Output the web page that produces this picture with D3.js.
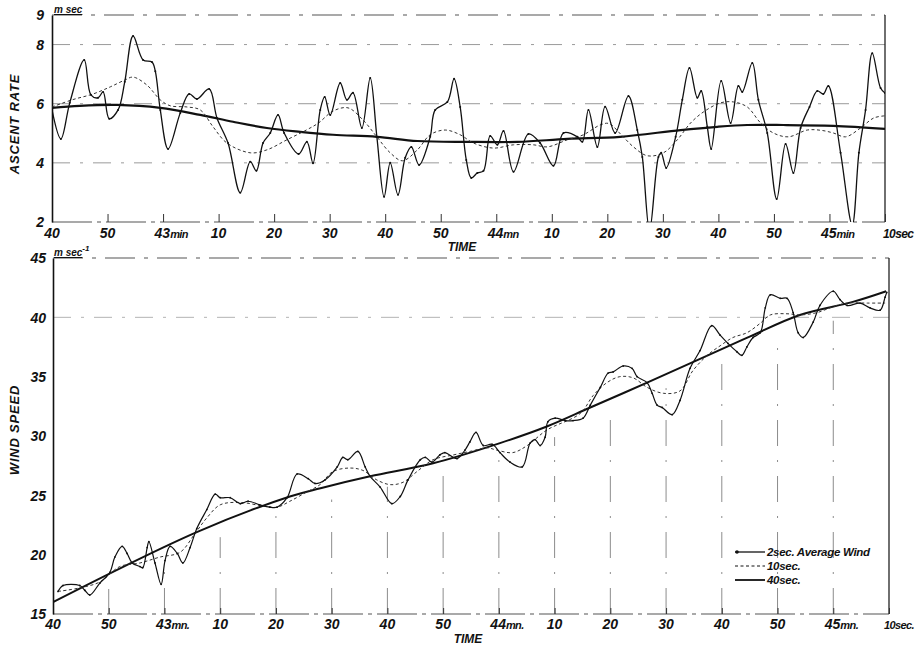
<!DOCTYPE html>
<html>
<head>
<meta charset="utf-8">
<script src="https://cdn.jsdelivr.net/npm/d3@7"></script>
<style>
  html, body { margin: 0; padding: 0; background: #fff; }
  svg { display: block; }
  text { font-family: "Liberation Sans", Arial, sans-serif; font-weight: bold; font-style: italic; fill: #111; }
</style>
</head>
<body>
<svg id="chart" width="922" height="648"></svg>
<script>
// Time axis: seconds after 42 min 40 s
const tickTimes = [0,10,20,30,40,50,60,70,80,90,100,110,120,130,140,150];
const topTickLabels = ["40","50","43|min","10","20","30","40","50","44|mn","10","20","30","40","50","45|min","10sec"];
const botTickLabels = ["40","50","43|mn.","10","20","30","40","50","44|mn.","10","20","30","40","50","45|mn.","10sec."];
const ascentTicks = [2,4,6,8,9];
const windTicks = [15,20,25,30,35,40,45];

// Ascent rate (m/sec)
const ascent2sT = [0,1.6,3.2,5.8,7.0,8.3,9.2,10.3,11.9,13.1,14.6,16.4,18.0,18.6,19.5,20.9,23.1,24.7,26.1,28.3,29.7,31.7,33.9,35.7,36.8,38.0,39.3,40.7,41.8,44.4,45.9,47.0,48.3,49.1,50.1,51.9,53.1,54.2,55.8,57.3,58.5,59.8,60.9,62.3,63.6,64.7,66.1,68.1,69.0,71.2,72.4,73.5,74.6,75.5,76.6,77.7,78.9,80.2,81.3,83.1,85.8,87.9,90.3,92.1,94.6,95.5,96.6,98.2,99.6,101.4,103.8,105.4,106.3,107.6,109.2,109.7,110.6,112.3,113.5,114.8,116.2,116.9,118.0,118.7,120.5,122.2,123.6,124.3,126.1,127.2,128.8,130.5,132.1,133.5,134.8,136.4,137.8,138.9,139.8,142.0,144.1,145.3,146.5,147.7,149.2,150];
const ascent2sV = [5.79,4.81,6.03,7.48,6.3,6.2,6.4,5.49,5.79,6.74,8.29,7.48,7.41,7.1,5.79,4.47,5.69,6.33,6.16,6.5,5.52,4.67,2.99,4.04,3.73,4.67,5.01,5.62,5.01,4.3,4.71,3.99,5.79,6.23,5.62,6.7,6.13,6.37,5.18,6.87,4.88,2.85,4.0,2.92,4.17,4.54,3.93,4.88,5.79,6.06,6.84,5.89,4.1,3.49,3.66,3.73,4.91,4.61,5.08,3.7,4.98,4.67,3.9,5.01,4.88,4.71,5.79,4.54,5.9,5.01,6.26,5.11,4.2,1.7,4.2,4.34,3.83,4.88,6.13,7.21,6.2,6.43,5.22,4.47,6.77,5.35,6.6,6.4,7.38,6.13,5.01,2.78,4.64,3.66,5.18,5.89,6.43,6.33,6.6,4.34,1.9,4.34,5.79,7.71,6.53,6.36];

const ascent10sT = [0,3.6,7.4,10.5,13.1,14.6,17.1,19.5,21.3,24.3,26.7,29.0,31.5,35.7,38.7,42.3,45.9,48.0,50.6,53.3,56.0,58.5,60.9,63.1,65.8,68.1,70.8,73.5,75.9,79.5,83.1,86.7,89.2,92.8,95.7,98.7,100.3,102.5,104.7,107.2,110.1,112.6,115.0,117.3,120.4,122.7,125.2,127.6,129.9,132.6,136.0,138.5,140.7,142.9,145.6,148.0,150];
const ascent10sV = [5.89,6.13,6.33,6.57,6.8,6.9,6.63,6.13,5.93,5.89,5.79,5.22,4.67,4.34,4.44,4.78,5.12,5.35,5.75,5.86,5.45,4.88,4.34,4.07,4.44,4.95,5.11,4.95,4.67,4.5,4.61,4.61,4.54,4.78,4.95,5.28,5.33,4.95,4.54,4.24,4.34,4.78,5.35,5.72,6.03,6.06,5.89,5.35,5.01,4.88,5.11,5.1,5.01,4.88,5.18,5.52,5.59];

const ascent40sT = [0,5,11.7,19.5,26.7,32.6,38.7,44.7,50.6,58.5,65.8,74.8,83.8,92.8,102.3,113.2,119.8,125.2,131.7,140.7,150];
const ascent40sV = [5.86,5.93,5.96,5.86,5.62,5.39,5.18,5.05,4.95,4.88,4.74,4.71,4.71,4.81,4.88,5.11,5.22,5.28,5.28,5.25,5.15];

// Wind speed (m/sec)
const wind2sT = [0.9,1.8,4.8,5.7,6.6,8.4,10.2,11.1,12.4,13.3,14.2,15.6,16.1,16.9,17.2,18.3,19.4,20.1,21.0,22.3,23.3,24.6,25.8,27.6,29.1,30.0,31.8,33.6,35.0,37.1,38.9,40.2,42.0,43.8,45.8,47.0,48.8,51.0,52.0,52.9,54.7,56.0,56.9,58.7,60.8,62.3,63.7,65.9,66.8,68.0,69.4,70.3,72.5,73.9,74.8,75.9,77.2,78.8,80.2,82.0,84.2,85.6,86.5,87.4,88.3,88.8,90.1,91.9,93.3,95.1,96.4,98.2,99.6,100.5,102.3,103.9,104.8,106.6,107.5,108.4,109.3,111.1,112.5,114.3,116.1,118.2,119.7,121.1,122.7,123.6,124.5,125.6,126.9,127.8,128.7,130.5,131.7,132.8,133.7,134.6,136.4,137.6,140.0,141.2,142.5,144.8,146.6,148.4,149.3,149.6];
const wind2sV = [16.9,17.4,17.4,17.0,16.6,17.6,18.5,19.8,20.7,20.1,19.3,19.0,18.9,20.6,21.1,19.3,17.5,19.5,20.7,20.1,19.3,20.6,22.2,23.8,25.1,24.8,24.8,24.3,24.5,24.2,24.0,24.0,24.8,26.8,26.4,26.0,26.3,27.4,28.2,28.0,28.7,27.4,26.6,25.7,24.3,24.9,26.3,28.0,28.2,27.8,28.4,28.6,28.1,28.8,29.5,30.3,29.2,29.3,28.6,27.8,27.4,29.4,29.7,29.2,29.9,31.2,31.5,31.3,31.3,31.5,32.6,34.1,35.3,35.4,35.9,35.7,35.0,34.5,33.6,32.6,32.4,31.8,33.0,35.7,37.2,39.3,38.5,37.8,37.1,36.8,37.5,38.3,38.7,40.8,41.9,41.6,41.6,40.4,38.7,38.3,39.6,41.0,42.2,41.5,41.0,41.2,40.8,40.6,41.7,42.1];

const wind10sT = [0.9,4.8,8.4,12.0,15.6,19.2,22.8,25.5,27.6,30.0,33.6,37.7,40.2,42.5,45.6,47.9,50.2,53.3,55.6,58.1,60.5,62.8,65.3,68.2,71.8,74.8,77.9,79.7,82.5,85.1,88.6,94.6,96.9,99.4,101.7,104.1,106.6,109.5,112.5,114.8,117.4,119.7,122.0,124.5,126.9,128.7,131.7,134.0,137.1,140.0,142.5,146.1,149.3];
const wind10sV = [16.9,17.2,17.7,19.0,19.3,19.8,20.2,21.8,23.1,24.2,24.4,24.1,24.0,24.5,25.3,25.9,27.0,27.3,27.1,26.3,25.9,26.1,27.0,28.0,28.4,28.7,29.0,28.8,28.6,29.2,30.5,31.9,33.4,34.5,35.0,34.9,34.1,33.6,33.8,35.5,36.8,37.6,38.3,38.7,39.5,40.2,40.3,40.2,40.4,40.9,41.2,41.2,41.2];

const wind40sT = [0,25.8,42.5,48.0,56.9,68.2,80.2,88.6,96.4,106.6,116.1,125.1,134.0,143.5,149.5];
const wind40sV = [16.0,21.9,24.9,25.6,26.6,27.7,29.4,30.8,32.4,34.5,36.5,38.4,40.2,41.3,42.2];

const legendLabels = ["2sec. Average Wind", "10sec.", "40sec."];

const svg = d3.select("#chart");
svg.append("rect").attr("width", 922).attr("height", 648).attr("fill", "#fff");

const xTop = d3.scaleLinear().domain([0, 150]).range([52, 885]);
const yTop = d3.scaleLinear().domain([2, 9]).range([222, 15]);
const xBot = d3.scaleLinear().domain([0, 150]).range([53, 889]);
const yBot = d3.scaleLinear().domain([15, 45]).range([614, 258]);

const zip = (ts, vs) => ts.map((t, i) => [t, vs[i]]);

// Interpolated value of a smoothed series at time t (used only to size grid strokes)
function valueAt(ts, vs, t) {
  const i = d3.bisectRight(ts, t);
  if (i <= 0) return vs[0];
  if (i >= ts.length) return vs[vs.length - 1];
  const f = (t - ts[i - 1]) / (ts[i] - ts[i - 1]);
  return vs[i - 1] + f * (vs[i] - vs[i - 1]);
}

const gridStyle = sel => sel.attr("stroke", "#9a9a9a").attr("stroke-width", 1)
  .attr("stroke-dasharray", "18,10,3,10").attr("fill", "none");

// ---------- clip paths ----------
const defs = svg.append("defs");
defs.append("clipPath").attr("id", "clipTop").append("rect")
  .attr("x", xTop(0)).attr("y", yTop(9)).attr("width", xTop(150) - xTop(0)).attr("height", yTop(2) - yTop(9));
defs.append("clipPath").attr("id", "clipBot").append("rect")
  .attr("x", xBot(0)).attr("y", yBot(45)).attr("width", xBot(150) - xBot(0)).attr("height", yBot(15) - yBot(45));

// ---------- tick labels with number centred on tick ----------
function drawTickLabels(g, x, labels, yBase, lastStart, lastSize) {
  labels.forEach((lab, i) => {
    const t = tickTimes[i];
    const parts = lab.split("|");
    if (i === labels.length - 1) {
      g.append("text").attr("x", x(t) + lastStart).attr("y", yBase)
        .attr("font-size", lastSize).attr("letter-spacing", -0.6).attr("text-anchor", "start").text(lab);
    } else if (parts.length === 2) {
      const tx = g.append("text").attr("x", x(t) - 8.5).attr("y", yBase)
        .attr("font-size", 14).attr("text-anchor", "start");
      tx.append("tspan").text(parts[0]);
      tx.append("tspan").attr("font-size", 11).attr("letter-spacing", -0.6).text(parts[1]);
    } else {
      g.append("text").attr("x", x(t)).attr("y", yBase)
        .attr("font-size", 14).attr("text-anchor", "middle").text(lab);
    }
  });
}

// =============== TOP PANEL: ASCENT RATE ===============
const gTop = svg.append("g");

// horizontal guide lines
[4, 6, 8].forEach(v => {
  gTop.append("line").attr("x1", xTop(0)).attr("x2", xTop(150))
    .attr("y1", yTop(v)).attr("y2", yTop(v)).call(gridStyle);
});
// upper frame
gTop.append("line").attr("x1", xTop(0)).attr("x2", xTop(150))
  .attr("y1", yTop(9)).attr("y2", yTop(9))
  .attr("stroke", "#555").attr("stroke-width", 1.1).attr("stroke-dasharray", "30,9,4,9");
// baseline
gTop.append("line").attr("x1", xTop(0)).attr("x2", xTop(150))
  .attr("y1", yTop(2)).attr("y2", yTop(2))
  .attr("stroke", "#555").attr("stroke-width", 1.2).attr("stroke-dasharray", "40,5,4,5");
// right border
gTop.append("line").attr("x1", xTop(150)).attr("x2", xTop(150))
  .attr("y1", yTop(9)).attr("y2", yTop(2)).attr("stroke", "#222").attr("stroke-width", 1.3);

// time ticks
const axTop = gTop.append("g").attr("transform", `translate(0,${yTop(2)})`)
  .call(d3.axisBottom(xTop).tickValues(tickTimes).tickSize(-8).tickSizeOuter(0).tickFormat(""));
axTop.select(".domain").remove();
axTop.selectAll(".tick line").attr("stroke", "#333").attr("stroke-width", 1);

// left axis
const ayTop = gTop.append("g").attr("transform", `translate(${xTop(0)},0)`)
  .call(d3.axisLeft(yTop).tickValues(ascentTicks).tickSize(0).tickPadding(8).tickSizeOuter(0).tickFormat(d3.format("d")));
ayTop.select(".domain").attr("stroke", "#111").attr("stroke-width", 1.6);
ayTop.selectAll("text").attr("font-size", 14).attr("font-family", "Liberation Sans, Arial, sans-serif")
  .attr("font-weight", "bold").attr("font-style", "italic").attr("fill", "#111").attr("dy", "0.35em");

drawTickLabels(gTop, xTop, topTickLabels, 238, -2, 12);

gTop.append("text").attr("x", 462).attr("y", 251).attr("font-size", 12).attr("text-anchor", "middle").text("TIME");
gTop.append("text").attr("transform", "translate(19,124) rotate(-90)")
  .attr("font-size", 13).attr("letter-spacing", 0.8).attr("text-anchor", "middle").text("ASCENT RATE");
gTop.append("text").attr("x", 54).attr("y", 13).attr("font-size", 10).attr("text-decoration", "underline").text("m sec");

// curves
const lineTop = d3.line().x(d => xTop(d[0])).y(d => yTop(d[1])).curve(d3.curveCatmullRom.alpha(0.5));
const cTop = gTop.append("g").attr("clip-path", "url(#clipTop)");
cTop.append("path").datum(zip(ascent40sT, ascent40sV)).attr("d", lineTop)
  .attr("fill", "none").attr("stroke", "#111").attr("stroke-width", 2.2);
cTop.append("path").datum(zip(ascent10sT, ascent10sV)).attr("d", lineTop)
  .attr("fill", "none").attr("stroke", "#333").attr("stroke-width", 1).attr("stroke-dasharray", "3,2.5");
cTop.append("path").datum(zip(ascent2sT, ascent2sV)).attr("d", lineTop)
  .attr("fill", "none").attr("stroke", "#111").attr("stroke-width", 1.3);
cTop.selectAll("circle.m").data(zip(ascent2sT, ascent2sV)).join("circle")
  .attr("cx", d => xTop(d[0])).attr("cy", d => yTop(d[1])).attr("r", 1).attr("fill", "#111");

// =============== BOTTOM PANEL: WIND SPEED ===============
const gBot = svg.append("g");

// horizontal guide line at 40 and upper frame
gBot.append("line").attr("x1", xBot(0)).attr("x2", xBot(150))
  .attr("y1", yBot(40)).attr("y2", yBot(40)).call(gridStyle).attr("stroke", "#b4b4b4");
gBot.append("line").attr("x1", xBot(0)).attr("x2", xBot(150))
  .attr("y1", yBot(45)).attr("y2", yBot(45))
  .attr("stroke", "#555").attr("stroke-width", 1.1).attr("stroke-dasharray", "30,9,4,9");
// vertical guide lines rising from the base to the 40 sec curve
tickTimes.slice(1, -1).forEach(t => {
  const top = yBot(valueAt(wind40sT, wind40sV, t)) + 14;
  gBot.append("line").attr("x1", xBot(t)).attr("x2", xBot(t))
    .attr("y1", yBot(15)).attr("y2", top)
    .attr("stroke", "#8c8c8c").attr("stroke-width", 1).attr("stroke-dasharray", "26,14,2,14");
});
// baseline
gBot.append("line").attr("x1", xBot(0)).attr("x2", xBot(150))
  .attr("y1", yBot(15)).attr("y2", yBot(15))
  .attr("stroke", "#555").attr("stroke-width", 1.2).attr("stroke-dasharray", "40,5,4,5");
// right border
gBot.append("line").attr("x1", xBot(150)).attr("x2", xBot(150))
  .attr("y1", yBot(45)).attr("y2", yBot(15)).attr("stroke", "#222").attr("stroke-width", 1.3);

const axBot = gBot.append("g").attr("transform", `translate(0,${yBot(15)})`)
  .call(d3.axisBottom(xBot).tickValues(tickTimes).tickSize(-6).tickSizeOuter(0).tickFormat(""));
axBot.select(".domain").remove();
axBot.selectAll(".tick line").attr("stroke", "#333");

const ayBot = gBot.append("g").attr("transform", `translate(${xBot(0)},0)`)
  .call(d3.axisLeft(yBot).tickValues(windTicks).tickSize(0).tickPadding(7).tickSizeOuter(0).tickFormat(d3.format("d")));
ayBot.select(".domain").attr("stroke", "#111").attr("stroke-width", 1.6);
ayBot.selectAll("text").attr("font-size", 14).attr("font-family", "Liberation Sans, Arial, sans-serif")
  .attr("font-weight", "bold").attr("font-style", "italic").attr("fill", "#111").attr("dy", "0.35em");

drawTickLabels(gBot, xBot, botTickLabels, 629, -5, 11);

gBot.append("text").attr("x", 468).attr("y", 643).attr("font-size", 12).attr("text-anchor", "middle").text("TIME");
gBot.append("text").attr("transform", "translate(19,430) rotate(-90)")
  .attr("font-size", 13).attr("letter-spacing", 0.8).attr("text-anchor", "middle").text("WIND SPEED");
const unitB = gBot.append("text").attr("x", 54).attr("y", 256).attr("font-size", 10);
unitB.append("tspan").attr("text-decoration", "underline").text("m sec");
unitB.append("tspan").attr("font-size", 8).attr("dy", -5).text("-1");

const lineBot = d3.line().x(d => xBot(d[0])).y(d => yBot(d[1])).curve(d3.curveCatmullRom.alpha(0.5));
const cBot = gBot.append("g").attr("clip-path", "url(#clipBot)");
cBot.append("path").datum(zip(wind40sT, wind40sV)).attr("d", lineBot)
  .attr("fill", "none").attr("stroke", "#111").attr("stroke-width", 2);
cBot.append("path").datum(zip(wind10sT, wind10sV)).attr("d", lineBot)
  .attr("fill", "none").attr("stroke", "#333").attr("stroke-width", 1).attr("stroke-dasharray", "3,2.5");
cBot.append("path").datum(zip(wind2sT, wind2sV)).attr("d", lineBot)
  .attr("fill", "none").attr("stroke", "#111").attr("stroke-width", 1.2);
cBot.selectAll("circle.m").data(zip(wind2sT, wind2sV)).join("circle")
  .attr("cx", d => xBot(d[0])).attr("cy", d => yBot(d[1])).attr("r", 0.9).attr("fill", "#111");

// legend
const lg = gBot.append("g").attr("transform", "translate(735,552)");
const lgStyles = [
  {w: 1.3, dash: null},
  {w: 1, dash: "3,2.5"},
  {w: 1.8, dash: null}
];
legendLabels.forEach((lab, i) => {
  const row = lg.append("g").attr("transform", `translate(0,${i * 14})`);
  const ln = row.append("line").attr("x1", 0).attr("x2", 30).attr("y1", 0).attr("y2", 0)
    .attr("stroke", "#111").attr("stroke-width", lgStyles[i].w);
  if (lgStyles[i].dash) ln.attr("stroke-dasharray", lgStyles[i].dash);
  if (i === 0) row.append("circle").attr("cx", 2).attr("cy", 0).attr("r", 1.8).attr("fill", "#111");
  row.append("text").attr("x", 32).attr("y", 4).attr("font-size", 11.5).attr("letter-spacing", -0.3).text(lab);
});
</script>
</body>
</html>
